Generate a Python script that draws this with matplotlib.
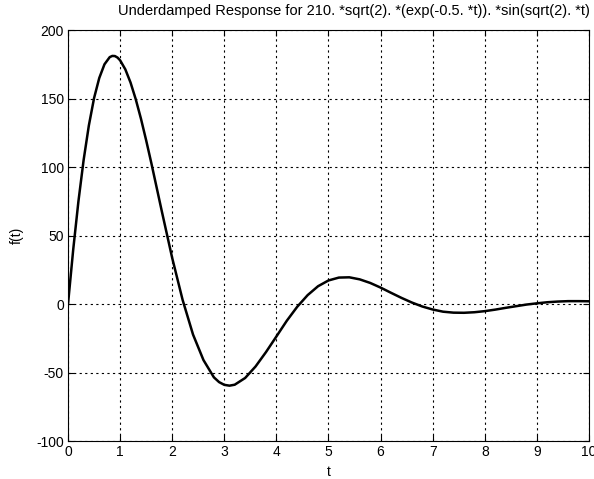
import matplotlib
matplotlib.use("Agg")
import matplotlib.pyplot as plt

# values
t = [0.0, 0.1, 0.2, 0.3, 0.4, 0.5, 0.6, 0.7, 0.8, 0.85, 0.9, 0.95, 1.0,
     1.1, 1.2, 1.3, 1.4, 1.5, 1.6, 1.8,
     2.0, 2.2, 2.4, 2.6, 2.8, 2.9, 3.0, 3.1, 3.2, 3.4, 3.6, 3.8,
     4.0, 4.2, 4.4, 4.6, 4.8, 5.0, 5.2, 5.4, 5.6, 5.8,
     6.0, 6.2, 6.4, 6.6, 6.8, 7.0, 7.2, 7.4, 7.6, 7.8,
     8.0, 8.2, 8.4, 8.6, 8.8, 9.0, 9.2, 9.4, 9.6, 9.8, 10.0]
f = [0.0, 39.8, 75.0, 105.2, 130.3, 150.3, 165.0, 175.0, 180.2, 181.1, 181.0, 179.9, 177.9,
     171.3, 161.7, 149.5, 135.3, 119.5, 102.8, 67.8,
     33.6, 3.0, -22.3, -40.9, -53.5, -57.0, -59.0, -59.6, -58.9, -54.0, -45.6, -35.1,
     -23.7, -12.2, -2.0, 6.5, 13.0, 17.2, 19.3, 19.5, 18.0, 15.4,
     12.0, 8.2, 4.5, 1.1, -1.8, -4.0, -5.6, -6.3, -6.4, -6.0,
     -5.2, -4.1, -2.8, -1.6, -0.4, 0.5, 1.3, 1.8, 2.1, 2.1, 2.0]

x_ticks = list(range(0, 11))
y_ticks = [-100, -50, 0, 50, 100, 150, 200]
title = "Underdamped Response for 210. *sqrt(2). *(exp(-0.5. *t)). *sin(sqrt(2). *t)"

plt.rcParams["font.family"] = ["Liberation Sans", "DejaVu Sans"]
plt.rcParams["font.size"] = 10
plt.rcParams["axes.unicode_minus"] = False

fig = plt.figure(figsize=(5.94, 4.79), dpi=100)
ax = fig.add_axes([0.1145, 0.0793, 0.877, 0.858])

ax.plot(t, f, color="black", linewidth=1.8, solid_joinstyle="round")

ax.set_xlim(0, 10)
ax.set_ylim(-100, 200)
ax.set_xticks(x_ticks)
ax.set_yticks(y_ticks)
ax.grid(True, color="black", linestyle=(0, (2, 3)), linewidth=0.8)
ax.tick_params(direction="in", top=True, right=True, length=4, width=0.8, pad=3)
for s in ax.spines.values():
    s.set_linewidth(0.8)

ax.set_xlabel("t", labelpad=4)
ax.set_ylabel("f(t)", labelpad=9)
ax.set_title(title, fontsize=10.5, x=0.549, y=1.0, pad=11)

fig.savefig("out.png", dpi=100)
